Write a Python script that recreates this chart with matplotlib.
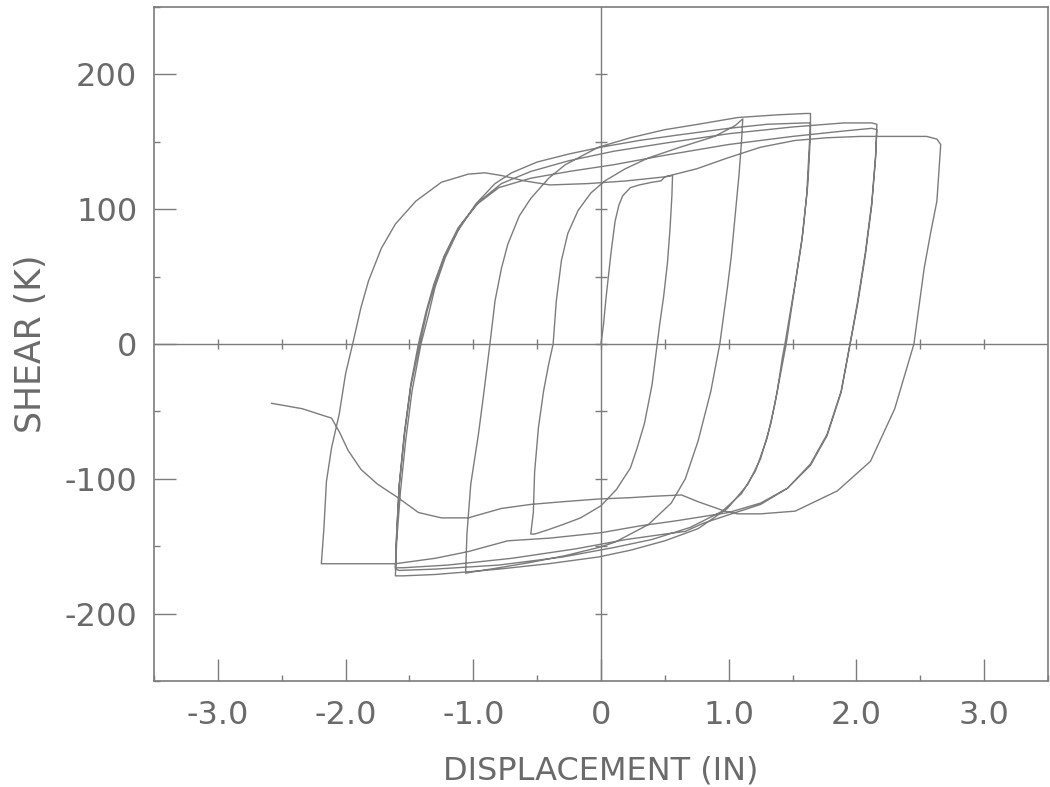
import numpy as np
import matplotlib.pyplot as plt

# Cyclic shear test, branches listed in loading order.
# displacement in inches, shear in kips
load0_disp = [0.00, 0.02, 0.04, 0.06, 0.08, 0.11, 0.14, 0.17, 0.23, 0.30, 0.40, 0.47, 0.50, 0.56]
load0_shear = [0, 15, 35, 52, 69, 91, 103, 110, 116, 118, 120, 121, 124, 125]

unload1_disp = [0.56, 0.555, 0.54, 0.52, 0.49, 0.46, 0.44, 0.40, 0.34, 0.28, 0.23, 0.12, 0.00, -0.16, -0.30, -0.42, -0.52, -0.55]
unload1_shear = [125, 110, 85, 60, 35, 15, 0, -30, -59, -78, -92, -108, -120, -129, -134, -138, -141, -141]

reload1_disp = [-0.55, -0.53, -0.52, -0.49, -0.45, -0.41, -0.375, -0.35, -0.31, -0.26, -0.18, -0.08, 0.03, 0.19, 0.37, 0.62, 0.89, 1.05, 1.11]
reload1_shear = [-141, -125, -95, -62, -35, -15, 0, 32, 62, 82, 99, 112, 121, 130, 138, 146, 154, 162, 167]

unload2_disp = [1.11, 1.10, 1.08, 1.05, 1.02, 0.99, 0.93, 0.86, 0.76, 0.66, 0.55, 0.37, 0.11, -0.02, -0.28, -0.55, -0.80, -1.00, -1.06]
unload2_shear = [167, 150, 125, 95, 65, 42, 0, -35, -72, -100, -118, -134, -147, -151, -157, -162, -166, -169, -170]

reload2_disp = [-1.06, -1.05, -1.02, -0.96, -0.92, -0.87, -0.83, -0.78, -0.73, -0.64, -0.55, -0.41, -0.28, -0.02, 0.23, 0.50, 0.76, 1.07, 1.38, 1.60, 1.64]
reload2_shear = [-170, -141, -104, -67, -38, 0, 32, 56, 74, 95, 108, 123, 133, 146, 153, 159, 163, 168, 170, 171, 171]

unload3_disp = [1.64, 1.64, 1.62, 1.58, 1.52, 1.44, 1.42, 1.38, 1.33, 1.25, 1.15, 0.99, 0.76, 0.50, 0.23, -0.02, -0.41, -0.80, -1.04, -1.30, -1.55, -1.61]
unload3_shear = [171, 156, 119, 82, 45, 0, -10, -35, -59, -85, -104, -122, -137, -146, -153, -158, -163, -167, -169, -171, -172, -172]

reload3_disp = [-1.61, -1.60, -1.57, -1.53, -1.48, -1.41, -1.35, -1.30, -1.22, -1.12, -0.98, -0.83, -0.70, -0.50, -0.25, 0.00, 0.30, 0.60, 1.00, 1.30, 1.60, 1.64]
reload3_shear = [-172, -146, -109, -72, -35, 0, 22, 42, 64, 84, 104, 119, 127, 135, 141, 146, 151, 155, 160, 163, 164, 164]

unload3b_disp = [1.64, 1.63, 1.61, 1.57, 1.51, 1.45, 1.41, 1.36, 1.30, 1.21, 1.10, 0.95, 0.70, 0.40, 0.10, -0.30, -0.80, -1.30, -1.58, -1.61]
unload3b_shear = [164, 145, 110, 75, 38, 0, -20, -45, -70, -94, -111, -124, -136, -145, -151, -158, -164, -167, -168, -167]

reload3b_disp = [-1.61, -1.60, -1.58, -1.54, -1.49, -1.42, -1.36, -1.30, -1.22, -1.10, -0.95, -0.78, -0.55, -0.25, 0.10, 0.50, 1.00, 1.50, 1.90, 2.12, 2.16]
reload3b_shear = [-167, -140, -105, -68, -32, 0, 25, 45, 66, 88, 106, 119, 128, 136, 143, 149, 156, 161, 164, 164, 163]

unload4_disp = [2.16, 2.15, 2.12, 2.07, 2.01, 1.95, 1.88, 1.77, 1.64, 1.46, 1.25, 0.99, 0.80, 0.66, 0.50, 0.20, -0.20, -0.70, -1.20, -1.55, -1.61]
unload4_shear = [163, 140, 105, 68, 32, 0, -35, -67, -89, -107, -119, -127, -133, -139, -141, -145, -152, -159, -164, -166, -166]

reload4_disp = [-1.61, -1.60, -1.58, -1.54, -1.49, -1.43, -1.37, -1.31, -1.23, -1.12, -0.98, -0.80, -0.55, -0.25, 0.10, 0.50, 1.00, 1.50, 1.90, 2.12, 2.16]
reload4_shear = [-166, -140, -104, -66, -30, 0, 24, 44, 65, 86, 103, 116, 123, 128, 133, 140, 148, 154, 158, 160, 159]

unload4b_disp = [2.16, 2.15, 2.12, 2.07, 2.01, 1.95, 1.88, 1.77, 1.64, 1.46, 1.25, 1.00, 0.80, 0.60, 0.30, 0.00, -0.40, -0.73, -1.04, -1.30, -1.61, -1.90, -2.19]
unload4b_shear = [159, 138, 103, 66, 30, 0, -36, -68, -90, -107, -118, -125, -128, -131, -135, -140, -144, -146, -154, -159, -163, -163, -163]

reload5_disp = [-2.19, -2.17, -2.15, -2.11, -2.05, -2.00, -1.94, -1.88, -1.82, -1.72, -1.61, -1.45, -1.25, -1.04, -0.91, -0.78, -0.60, -0.40, -0.10, 0.20, 0.50, 0.75, 0.99, 1.25, 1.52, 1.77, 2.03, 2.30, 2.55, 2.63, 2.66]
reload5_shear = [-163, -137, -102, -77, -52, -22, 2, 27, 47, 71, 89, 106, 120, 126, 127, 125, 121, 118, 119, 121, 124, 130, 138, 146, 151, 153, 154, 154, 154, 152, 148]

final_disp = [2.66, 2.63, 2.58, 2.53, 2.45, 2.30, 2.11, 1.85, 1.52, 1.25, 1.07, 0.97, 0.76, 0.63, 0.40, 0.23, -0.02, -0.30, -0.55, -0.78, -1.04, -1.25, -1.43, -1.59, -1.75, -1.88, -1.98, -2.05, -2.11, -2.34, -2.58]
final_shear = [148, 106, 82, 56, 0, -48, -87, -109, -124, -126, -126, -124, -117, -112, -113, -114, -115, -117, -119, -122, -129, -129, -125, -114, -104, -93, -79, -65, -55, -48, -44]

branches = [
    (load0_disp, load0_shear), (unload1_disp, unload1_shear),
    (reload1_disp, reload1_shear), (unload2_disp, unload2_shear),
    (reload2_disp, reload2_shear), (unload3_disp, unload3_shear),
    (reload3_disp, reload3_shear), (unload3b_disp, unload3b_shear),
    (reload3b_disp, reload3b_shear), (unload4_disp, unload4_shear),
    (reload4_disp, reload4_shear), (unload4b_disp, unload4b_shear),
    (reload5_disp, reload5_shear), (final_disp, final_shear),
]
disp = np.concatenate([b[0] for b in branches])
shear = np.concatenate([b[1] for b in branches])

x_ticks = [-3, -2, -1, 0, 1, 2, 3]
x_labels = ["-3.0", "-2.0", "-1.0", "0", "1.0", "2.0", "3.0"]
y_ticks = [-200, -100, 0, 100, 200]
y_labels = ["-200", "-100", "0", "100", "200"]

ink = "#7c7c7c"
text_c = "#6a6a6a"
plt.rcParams["font.family"] = ["DejaVu Sans"]

fig = plt.figure(figsize=(10.5, 7.87), dpi=100)
ax = fig.add_axes([0.1467, 0.1347, 0.8514, 0.8564])
ax.set_xlim(-3.5, 3.5)
ax.set_ylim(-250, 250)

# zero axes with small crossing ticks
ax.axhline(0, color=ink, lw=1.0, zorder=1)
ax.axvline(0, color=ink, lw=1.0, zorder=1)
xt = np.arange(-3.0, 3.01, 0.5)
ax.plot(xt, np.zeros_like(xt), ls="none", marker="|", ms=7, mew=1.0, color=ink)
yt = np.arange(-200, 201, 50)
ax.plot(np.zeros_like(yt), yt, ls="none", marker="_", ms=9, mew=1.0, color=ink)

ax.plot(disp, shear, color=ink, lw=1.0, zorder=2)

ax.set_xticks(x_ticks)
ax.set_xticklabels(x_labels)
ax.set_yticks(y_ticks)
ax.set_yticklabels(y_labels)
ax.set_xticks(np.arange(-3.5, 3.51, 0.5), minor=True)
ax.set_yticks(np.arange(-250, 251, 50), minor=True)
ax.tick_params(which="major", direction="in", length=16, width=1.0, color=ink,
               labelcolor=text_c, labelsize=23, pad=12, top=False, right=False)
ax.tick_params(which="minor", direction="in", length=4, width=1.0, color=ink,
               top=False, right=False)
ax.tick_params(axis="x", pad=14)
for s in ax.spines.values():
    s.set_color(ink)
    s.set_linewidth(1.2)

ax.set_xlabel("DISPLACEMENT (IN)", fontsize=23, color=text_c, labelpad=17)
ax.set_ylabel("SHEAR (K)", fontsize=25, color=text_c, labelpad=12)

fig.savefig("out.png", dpi=100)
